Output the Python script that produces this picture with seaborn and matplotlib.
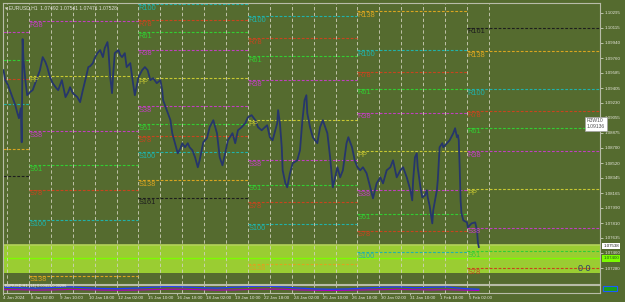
import pandas as pd
import seaborn as sns
import matplotlib.pyplot as plt

# EURUSD H1, x = trading hours counted from 8 Jan 2024 00:00
close_hour = [-28, -26, -23, -21, -19, -15, -13, -11, -9, -8, -7, -6, -4, -2, 1, 4, 8, 12, 15, 18,
              20, 23, 26, 30, 32, 34, 36, 40, 43, 45, 48, 53, 56, 59, 63, 65, 67, 70, 72, 75,
              78, 81, 83, 86, 87, 89, 91, 92, 94, 98, 100, 102, 105, 107, 111, 114, 116, 120, 124, 127,
              130, 133, 136, 140, 144, 146, 147, 149, 151, 155, 157, 160, 163, 166, 168, 171, 174, 176, 179, 182,
              185, 187, 191, 195, 198, 202, 206, 209, 212, 215, 218, 223, 226, 229, 233, 237, 240, 244, 248, 251,
              255, 261, 264, 267, 272, 273, 275, 277, 278, 281, 283, 286, 289, 294, 297, 299, 300, 302, 304, 305,
              308, 311, 316, 319, 322, 327, 330, 332, 333, 338, 341, 344, 348, 350, 354, 357, 360, 363, 366, 370,
              374, 377, 381, 385, 388, 392, 396, 399, 403, 407, 410, 414, 418, 420, 421, 423, 425, 426, 429, 431,
              434, 436, 437, 439, 442, 443, 445, 447, 448, 450, 453, 454, 458, 461, 465, 467, 469, 470, 471, 472,
              473, 474, 476, 480, 481, 485, 489, 491, 492, 493]
close_price = [1.09617, 1.09499, 1.09440, 1.09381, 1.09321, 1.09203, 1.09120, 1.09049, 1.09168, 1.08765,
               1.09984, 1.09735, 1.09499, 1.09321, 1.09357, 1.09381, 1.09499, 1.09617, 1.09771, 1.09712,
               1.09653, 1.09534, 1.09463, 1.09404, 1.09381, 1.09440, 1.09499, 1.09298, 1.09357, 1.09416,
               1.09345, 1.09298, 1.09239, 1.09381, 1.09558, 1.09653, 1.09664, 1.09700, 1.09759, 1.09818,
               1.09854, 1.09771, 1.09877, 1.09948, 1.09854, 1.09534, 1.09345, 1.09534, 1.09818, 1.09854,
               1.09795, 1.09771, 1.09818, 1.09653, 1.09700, 1.09463, 1.09321, 1.09534, 1.09617, 1.09653,
               1.09617, 1.09499, 1.09523, 1.09463, 1.09499, 1.09381, 1.09262, 1.09203, 1.09144, 1.09026,
               1.08872, 1.08754, 1.08635, 1.08694, 1.08754, 1.08706, 1.08754, 1.08706, 1.08671, 1.08588,
               1.08470, 1.08552, 1.08765, 1.08813, 1.08943, 1.09026, 1.08872, 1.08588, 1.08493, 1.08635,
               1.08789, 1.08872, 1.08754, 1.08907, 1.08943, 1.08990, 1.09061, 1.09085, 1.09026, 1.08943,
               1.08907, 1.08966, 1.08825, 1.08789, 1.08990, 1.09144, 1.08990, 1.08706, 1.08434, 1.08280,
               1.08233, 1.08399, 1.08517, 1.08552, 1.08671, 1.08943, 1.09061, 1.09262, 1.09321, 1.09108,
               1.08943, 1.08825, 1.08754, 1.08943, 1.09026, 1.08872, 1.08588, 1.08351, 1.08233, 1.08470,
               1.08351, 1.08434, 1.08754, 1.08825, 1.08706, 1.08552, 1.08470, 1.08434, 1.08470, 1.08399,
               1.08233, 1.08103, 1.08280, 1.08351, 1.08280, 1.08434, 1.08470, 1.08552, 1.08351, 1.08434,
               1.08470, 1.08351, 1.08198, 1.08079, 1.08316, 1.08588, 1.08635, 1.08470, 1.08233, 1.08115,
               1.08138, 1.08198, 1.08115, 1.08020, 1.07807, 1.07961, 1.08079, 1.08198, 1.08316, 1.08706,
               1.08754, 1.08706, 1.08754, 1.08789, 1.08872, 1.08931, 1.08825, 1.08848, 1.08789, 1.08470,
               1.08079, 1.07925, 1.07843, 1.07819, 1.07760, 1.07807, 1.07819, 1.07724, 1.07580, 1.07528]

# weekly fibonacci pivots
week_start = [-96, 0, 120, 240, 360, 480]
week_end = [0, 120, 240, 360, 480, 720]
week_pp = [1.10593, 1.09546, 1.09523, 1.09026, 1.08659, 1.08209]
week_range = [0.01378, 0.01704, 0.00875, 0.01230, 0.01195, 0.01180]

level_names = ["R161", "R138", "R100", "R78", "R61", "R38", "PP",
               "S38", "S61", "S78", "S100", "S138", "S161"]
level_ratio = [1.618, 1.382, 1.0, 0.786, 0.618, 0.382, 0.0,
               -0.382, -0.618, -0.786, -1.0, -1.382, -1.618]
level_color = ["#1e1e1e", "#daa520", "#20b2aa", "#c8441e", "#32cd32", "#c040c0", "#c8c832",
               "#c040c0", "#32cd32", "#c8441e", "#20b2aa", "#daa520", "#1e1e1e"]

zone_low, zone_high, zone_line = 1.07216, 1.07547, 1.07393

day_sep = [-24, 0, 24, 48, 72, 96, 120, 144, 168, 192, 216, 240, 264, 288,
           312, 336, 360, 384, 408, 432, 456, 480, 504]

time_ticks = [-28.5, 2, 34, 66, 98, 130, 162, 194, 226, 258, 290, 322, 354, 386, 418, 450, 482]
time_labels = ["4 Jan 2024", "8 Jan 02:00", "9 Jan 10:00", "10 Jan 18:00", "12 Jan 02:00",
               "15 Jan 10:00", "16 Jan 18:00", "18 Jan 02:00", "19 Jan 10:00", "22 Jan 18:00",
               "24 Jan 02:00", "25 Jan 10:00", "26 Jan 18:00", "30 Jan 02:00", "31 Jan 10:00",
               "1 Feb 18:00", "5 Feb 02:00"]

price_ticks = [1.10295, 1.10115, 1.09940, 1.09760, 1.09585, 1.09405, 1.09230, 1.09055, 1.08875,
               1.08700, 1.08520, 1.08345, 1.08165, 1.07990, 1.07810, 1.07635, 1.07460, 1.07280]

ind_hour = [-28, -10, 8, 26, 44, 62, 80, 98, 116, 134, 152, 170, 188, 206, 224, 242, 260, 278,
            296, 314, 332, 350, 368, 386, 404, 422, 440, 458, 476, 493]
ind_blue = [6.5, 6.0, 5.5, 6.2, 7.0, 6.0, 5.0, 4.8, 5.5, 6.5, 7.5, 7.0, 6.0, 5.5, 6.5, 7.5, 8.0, 7.0,
            5.5, 4.5, 4.0, 4.5, 5.5, 6.5, 7.0, 6.0, 6.5, 7.0, 5.0, 4.0]
ind_magenta = [3.5, 3.5, 3.0, 3.2, 3.8, 3.5, 3.0, 2.8, 3.0, 3.5, 4.0, 4.0, 3.5, 3.0, 3.2, 3.8, 4.2, 4.0,
               3.2, 2.8, 2.5, 2.8, 3.2, 3.5, 3.8, 3.5, 3.2, 3.5, 3.0, 2.5]

bg = "#556b2f"
frame = "#b8bca8"
plt.rcParams['font.family'] = ['Liberation Sans', 'DejaVu Sans']

fig = plt.figure(figsize=(6.25, 3.02), dpi=100, facecolor=bg)
ax = fig.add_axes([3 / 625, 18.5 / 302, 597 / 625, 280.5 / 302], facecolor=bg)
ax2 = fig.add_axes([3 / 625, 9.5 / 302, 597 / 625, 8 / 302], facecolor=bg, sharex=ax)

ax.set_xlim(-28.5, 625.8)
ax.set_ylim(1.07097, 1.10410)

# zone band
ax.axhspan(zone_low, zone_high, color="#9acd32", zorder=0.5, lw=0)
ax.axhline(zone_high, color="#b4d25a", lw=1.2, zorder=0.6)
ax.axhline(zone_line, color="#7cfc00", lw=1.0, zorder=0.7)

# day separators
for h in day_sep:
    ax.axvline(h, color="#cfd0bc", lw=0.6, ls=(0, (4, 3)), zorder=1)
    ax2.axvline(h, color="#cfd0bc", lw=0.6, ls=(0, (4, 3)), zorder=1)

# pivot levels
for w in range(len(week_pp)):
    for name, r, c in zip(level_names, level_ratio, level_color):
        lvl = week_pp[w] + r * week_range[w]
        ax.hlines(lvl, week_start[w], week_end[w], color=c, lw=0.8, ls=(0, (2.5, 1.5)), zorder=2)
        ax.annotate(name, (week_start[w], lvl), xytext=(0.2, -0.5), textcoords="offset points",
                    ha="left", va="top", fontsize=5.3, color=c, zorder=4)

df = pd.DataFrame({"hour": close_hour, "price": close_price})
sns.lineplot(data=df, x="hour", y="price", ax=ax, color="#26366b", lw=1.3,
             sort=False, estimator=None, zorder=3)

ax.text(601.6, 1.07275, "0 0", fontsize=6.5, color="#2b3a67", ha="left", va="center", zorder=5)
ax.text(0.004, 0.993, "\u25be EURUSD,H1  1.07492 1.07541 1.07471 1.07528", transform=ax.transAxes,
        fontsize=3.6, color="#e0e0d8", ha="left", va="top", family=['Liberation Sans', 'DejaVu Sans'])

# tooltip on the current week R78
r78 = week_pp[5] + 0.786 * week_range[5]
ax.annotate("R3W10\n1.09136", (611.5, r78), xytext=(0, -5.5), textcoords="offset points",
            ha="left", va="top", fontsize=3.6, color="#505050", annotation_clip=False,
            bbox=dict(boxstyle="square,pad=0.35", fc="white", ec="#a0a0a0", lw=0.5), zorder=6)

# price axis
ax.yaxis.tick_right()
ax.set_yticks(price_ticks)
ax.set_yticklabels([f"{p:.5f}" for p in price_ticks])
ax.tick_params(axis="y", colors="#e6e6dc", labelsize=3.2, length=2, width=0.5, pad=1.5)
ax.tick_params(axis="x", bottom=False, labelbottom=False)
ax.set_xlabel("")
ax.set_ylabel("")
for y, txt, fc, tc in [(1.07538, "1.07538", "white", "#202020"), (zone_line, "1.07400", "#7cfc00", "#205020")]:
    ax.annotate(txt, (1.0, y), xycoords=("axes fraction", "data"), xytext=(2.5, 0),
                textcoords="offset points", ha="left", va="center", fontsize=3.2, color=tc,
                annotation_clip=False, bbox=dict(boxstyle="square,pad=0.25", fc=fc, ec="none"), zorder=6)

for s in ax.spines.values():
    s.set_color(frame)
    s.set_linewidth(0.8)

# indicator subwindow
ind = pd.DataFrame({"hour": ind_hour, "blue": ind_blue, "magenta": ind_magenta})
sns.lineplot(data=ind, x="hour", y="magenta", ax=ax2, color="#b000c0", lw=0.8, estimator=None)
sns.lineplot(data=ind, x="hour", y="blue", ax=ax2, color="#1e3cff", lw=0.9, estimator=None)
ax2.set_ylim(0, 10)
ax2.set_yticks([])
ax2.set_ylabel("")
ax2.set_xlabel("")
ax2.text(0.004, 0.75, "EURUSD,H1 (14) 0.00413 0.00286", transform=ax2.transAxes,
         fontsize=2.8, color="#f0f0f0", ha="left", va="center")
ax2.annotate(" " * 10, (1.0, 0.5), xycoords="axes fraction", xytext=(2.5, 0), textcoords="offset points",
             ha="left", va="center", fontsize=3.2, annotation_clip=False,
             bbox=dict(boxstyle="square,pad=0.2", fc="#1aa019", ec="#1e5aff", lw=0.8))
ax2.set_xticks(time_ticks)
ax2.set_xticklabels(time_labels, ha="left")
ax2.tick_params(axis="x", colors="#e6e6dc", labelsize=3.2, length=1.5, width=0.5, pad=1.2)
for s in ax2.spines.values():
    s.set_color(frame)
    s.set_linewidth(0.8)

fig.savefig("out.png", dpi=100, facecolor=bg)
